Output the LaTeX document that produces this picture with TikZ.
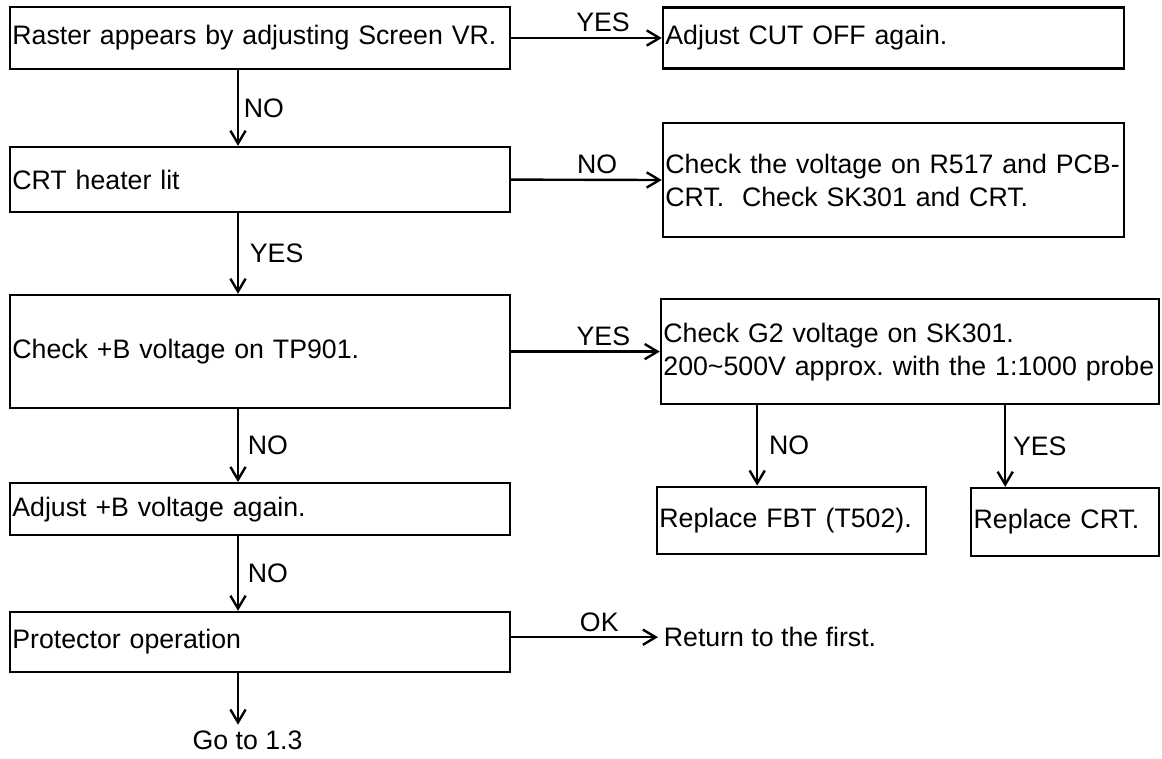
\documentclass[tikz,border=0pt]{standalone}
\usepackage{fontspec}
\setmainfont{Liberation Sans}
\usetikzlibrary{arrows.meta}
\begin{document}
\frenchspacing
\begin{tikzpicture}[x=1cm,y=1cm, font=\fontsize{19}{23.5}\selectfont, line width=1.7pt,
  >={Straight Barb[length=3.2mm,width=3.8mm]},
  box/.style={draw, rectangle, inner xsep=0.06cm, align=left}]
\useasboundingbox (0,0) rectangle (29.05,-18.95);
\node[box, text width=12.38cm, minimum height=1.55cm] (a) at (6.5,-0.95) {Raster appears by adjusting Screen VR.};
\node[box, text width=11.41cm, minimum height=1.53cm] (b) at (22.34,-0.95) {Adjust CUT OFF again.};

\node[box, text width=12.38cm, minimum height=1.63cm] (c) at (6.5,-4.49) {CRT heater lit};
\node[box, text width=11.41cm, minimum height=2.85cm] (d) at (22.34,-4.5) {Check the voltage on R517 and PCB-\\CRT.\ \ Check SK301 and CRT.};

\node[box, text width=12.38cm, minimum height=2.83cm] (e) at (6.5,-8.79) {Check +B voltage on TP901.};
\node[box, text width=12.33cm, minimum height=2.63cm] (f) at (22.75,-8.79) {Check G2 voltage on SK301.\\200\textasciitilde500V approx. with the 1:1000 probe};

\node[box, text width=6.61cm, minimum height=1.68cm] (g) at (19.79,-13.01) {Replace FBT (T502).};
\node[box, text width=4.58cm, minimum height=1.7cm] (h) at (26.63,-13.05) {Replace CRT.};

\node[box, text width=12.38cm, minimum height=1.3cm] (i) at (6.5,-12.73) {Adjust +B voltage again.};
\node[box, text width=12.38cm, minimum height=1.5cm] (j) at (6.5,-16.05) {Protector operation};

\node[anchor=west] (k) at (16.45,-15.93) {Return to the first.};
\node (l) at (6.19,-18.5) {Go to 1.3};

\draw[->] (a.east) -- node[pos=0.61, above] (ya) {YES} (b.west);
\draw[->] (c.east) -- node[pos=0.57, above] (nc) {NO} (d.west);
\draw[->] (e.east) -- node[pos=0.62, above] (ye) {YES} (f.west);
\draw[->] (j.east |- k.west) -- node[pos=0.6, above] (oj) {OK} (k.west);

\draw[->] ([xshift=-0.55cm]a.south) -- node[right] (na) {NO} ([xshift=-0.55cm]c.north);
\draw[->] ([xshift=-0.55cm]c.south) -- node[right, xshift=0.15cm] (yc) {YES} ([xshift=-0.55cm]e.north);
\draw[->] ([xshift=-0.55cm]e.south) -- node[right, xshift=0.1cm] (ne) {NO} ([xshift=-0.55cm]i.north);
\draw[->] ([xshift=-0.55cm]i.south) -- node[right, xshift=0.1cm] (ni) {NO} ([xshift=-0.55cm]j.north);
\draw[->] ([xshift=-0.55cm]j.south) -- ([xshift=-0.55cm]j.south |- l.north);

\draw[->] ([xshift=-0.86cm]g.north |- f.south) -- node[right, xshift=0.15cm] (nf) {NO} ([xshift=-0.86cm]g.north);
\draw[->] ([xshift=-1.5cm]h.north |- f.south) -- node[right, xshift=0.05cm] (yf) {YES} ([xshift=-1.5cm]h.north);
\end{tikzpicture}
\end{document}
